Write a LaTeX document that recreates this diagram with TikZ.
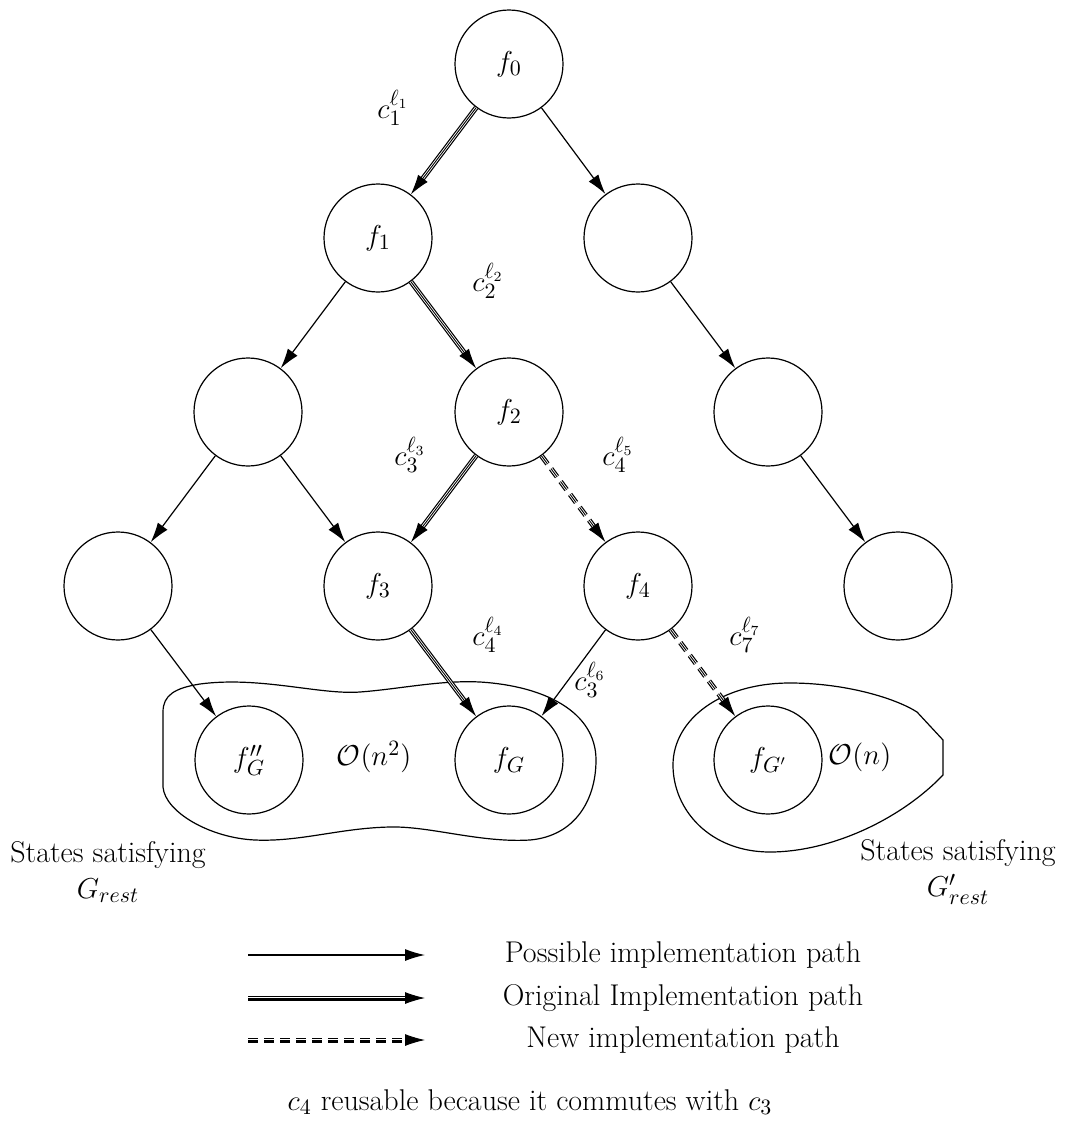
\documentclass[tikz,border=0pt]{standalone}
\usepackage{fontspec}
\usetikzlibrary{arrows.meta}
\begin{document}
\begin{tikzpicture}[x=0.5pt,y=-0.5pt,
  every node/.style={font=\fontsize{15}{17}\selectfont},
  state/.style={circle, draw, line width=0.6pt, minimum size=54pt, inner sep=0pt},
  tip/.style={-{Latex[length=10pt,width=6pt]}},
  plain/.style={draw, line width=0.6pt, tip},
  orig/.style={draw, line width=2.5pt, shorten >=8pt,
     postaction={draw=white, line width=1.3pt, shorten >=8pt},
     postaction={draw=black, line width=0.45pt, shorten >=0pt, tip}},
  new/.style={orig, dash pattern=on 5pt off 3pt},
  blob/.style={draw, line width=0.6pt}
]
\useasboundingbox (0,0) rectangle (1067,1124);

% state tree
\node[state] (f0) at (509,64) {$f_0$};
\node[state] (f1) at (378,238) {$f_1$};
\node[state] (r1) at (638,238) {};
\node[state] (l2) at (248,412) {};
\node[state] (f2) at (509,412) {$f_2$};
\node[state] (r2) at (768,412) {};
\node[state] (l3) at (118,586) {};
\node[state] (f3) at (378,586) {$f_3$};
\node[state] (f4) at (638,586) {$f_4$};
\node[state] (r3) at (898,586) {};
\node[state] (fgg) at (249,760) {$f''_G$};
\node[state] (fg) at (509,760) {$f_G$};
\node[state] (fgp) at (768,760) {$f_{G'}$};

% goal regions
\draw[blob] (163,787) -- (163,712)
  .. controls (163,695) and (175,688) .. (200,684)
  .. controls (260,676) and (320,695) .. (360,692)
  .. controls (400,689) and (440,680) .. (480,682)
  .. controls (545,686) and (596,712) .. (596,760)
  .. controls (596,800) and (575,836) .. (530,840)
  .. controls (480,843) and (430,826) .. (390,827)
  .. controls (340,828) and (300,842) .. (255,840)
  .. controls (210,838) and (165,812) .. cycle;
\draw[blob] (673,765)
  .. controls (673,720) and (720,683) .. (790,683)
  .. controls (845,683) and (895,698) .. (917,712)
  -- (943,740) -- (943,775)
  .. controls (900,820) and (830,852) .. (770,852)
  .. controls (710,852) and (673,810) .. cycle;

% transitions
\draw[orig] (f0) -- (f1);
\draw[plain] (f0) -- (r1);
\draw[plain] (f1) -- (l2);
\draw[orig] (f1) -- (f2);
\draw[plain] (r1) -- (r2);
\draw[plain] (l2) -- (l3);
\draw[plain] (l2) -- (f3);
\draw[orig] (f2) -- (f3);
\draw[new] (f2) -- (f4);
\draw[plain] (r2) -- (r3);
\draw[plain] (l3) -- (fgg);
\draw[orig] (f3) -- (fg);
\draw[plain] (f4) -- (fg);
\draw[new] (f4) -- (fgp);

% operator labels
\node (c1) at (393,108) {$c_1^{\ell_1}$};
\node (c2) at (488,281) {$c_2^{\ell_2}$};
\node (c3) at (410,455) {$c_3^{\ell_3}$};
\node (c5) at (618,455) {$c_4^{\ell_5}$};
\node (c4) at (488,635) {$c_4^{\ell_4}$};
\node (c7) at (745,635) {$c_7^{\ell_7}$};
\node (c6) at (590,680) {$c_3^{\ell_6}$};

\node (on2) at (374,757) {$\mathcal{O}(n^2)$};
\node (on) at (860,757) {$\mathcal{O}(n)$};

\node[align=center] (gl) at (108,872) {States satisfying\\[1pt] $G_{rest}$};
\node[align=center] (gr) at (958,872) {States satisfying\\[1pt] $G'_{rest}$};

% legend
\coordinate (a1) at (248,955);  \coordinate (b1) at (425,955);
\coordinate (a2) at (248,998);  \coordinate (b2) at (425,998);
\coordinate (a3) at (248,1040); \coordinate (b3) at (425,1040);
\draw[plain] (a1) -- (b1);
\draw[orig] (a2) -- (b2);
\draw[new] (a3) -- (b3);
\node (t1) at (683,955) {Possible implementation path};
\node (t2) at (683,998) {Original Implementation path};
\node (t3) at (683,1040) {New implementation path};

\node (cap) at (530,1102) {$c_4$ reusable because it commutes with $c_3$};
\end{tikzpicture}
\end{document}
